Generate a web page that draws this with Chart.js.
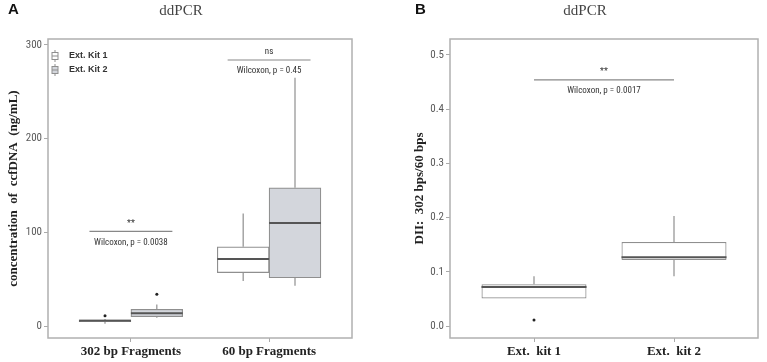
<!DOCTYPE html>
<html>
<head>
<meta charset="utf-8">
<script src="https://cdn.jsdelivr.net/npm/chart.js@4/dist/chart.umd.min.js"></script>
<style>
  body { margin: 0; background: #fff; width: 767px; height: 362px; position: relative; overflow: hidden; }
  .panel { position: absolute; top: 0; height: 362px; }
  .tag { position: absolute; font: bold 15px 'Liberation Sans', Arial, sans-serif; color: #111; line-height: 15px; }
  .ttl { position: absolute; width: 120px; text-align: center; font: 15px 'Liberation Serif', 'Times New Roman', serif; color: #444; line-height: 15px; }
</style>
</head>
<body>
<div class="panel" style="left:0;width:380px"><canvas id="chartA" width="380" height="362"></canvas></div>
<div class="panel" style="left:380px;width:387px"><canvas id="chartB" width="387" height="362"></canvas></div>
<div class="tag" style="left:8px;top:1px">A</div>
<div class="tag" style="left:415px;top:1px">B</div>
<div class="ttl" style="left:121px;top:3px">ddPCR</div>
<div class="ttl" style="left:525px;top:3px">ddPCR</div>
<script>
// panel A: ccfDNA concentration, two kits per fragment size
const groupsA = ['302 bp Fragments', '60 bp Fragments']
const kitNamesA = ['Ext. Kit 1', 'Ext. Kit 2']
// [min, q1, median, q3, max]
const kit1StatsA = [[2.5, 4.5, 5.5, 6.5, 7.5], [48, 57, 71.5, 84.5, 120]]
const kit2StatsA = [[8.8, 9.9, 13.5, 17.8, 23], [43, 51.5, 110, 147.5, 265]]
const kit1OutliersA = [[11], []]
const kit2OutliersA = [[34], []]
const yTicksA = [0, 100, 200, 300]
const testsA = [
  { from: 0.7, to: 1.3, y: 101, sig: '**', text: 'Wilcoxon, p = 0.0038' },
  { from: 1.7, to: 2.3, y: 284, sig: 'ns', text: 'Wilcoxon, p = 0.45' },
]

// panel B: DNA integrity index
const kitsB = ['Ext.  kit 1', 'Ext.  kit 2']
const diiStatsB = [[0.051, 0.051, 0.072, 0.077, 0.092], [0.092, 0.122, 0.127, 0.155, 0.203]]
const diiOutliersB = [[0.011], []]
const yTicksB = [0, 0.1, 0.2, 0.3, 0.4, 0.5]
const testsB = [
  { from: 1, to: 2, y: 0.454, sig: '**', text: 'Wilcoxon, p = 0.0017' },
]

const narrow = "'Liberation Sans Narrow', 'Roboto Condensed', 'DejaVu Sans Condensed', Arial, sans-serif"
const serif = "'Liberation Serif', 'Times New Roman', serif"
const boxLine = '#8f8f8f'

function boxDataset(label, stats, outliers, offset, fill) {
  return {
    label,
    data: stats.map((s, i) => ({ x: i + 1 + offset, y: [s[1], s[3]] })),
    stats,
    outliers,
    backgroundColor: fill,
    borderColor: boxLine,
    borderWidth: 1.2,
    borderSkipped: false,
    grouped: false,
  }
}

function line(ctx, x1, y1, x2, y2) {
  ctx.beginPath()
  ctx.moveTo(x1, y1)
  ctx.lineTo(x2, y2)
  ctx.stroke()
}

const boxExtras = {
  id: 'boxExtras',
  beforeDatasetsDraw(chart) {
    const { ctx, scales: { y } } = chart
    ctx.save()
    ctx.strokeStyle = boxLine
    ctx.lineWidth = 1.2
    chart.data.datasets.forEach((ds, di) => {
      chart.getDatasetMeta(di).data.forEach((bar, i) => {
        const s = ds.stats[i]
        line(ctx, bar.x, y.getPixelForValue(s[3]), bar.x, y.getPixelForValue(s[4]))
        line(ctx, bar.x, y.getPixelForValue(s[1]), bar.x, y.getPixelForValue(s[0]))
      })
    })
    ctx.restore()
  },
  afterDatasetsDraw(chart) {
    const { ctx, scales: { y } } = chart
    ctx.save()
    chart.data.datasets.forEach((ds, di) => {
      chart.getDatasetMeta(di).data.forEach((bar, i) => {
        const s = ds.stats[i]
        const my = y.getPixelForValue(s[2])
        ctx.strokeStyle = '#555'
        ctx.lineWidth = 2
        line(ctx, bar.x - bar.width / 2, my, bar.x + bar.width / 2, my)
        ctx.fillStyle = '#222'
        ds.outliers[i].forEach(v => {
          ctx.beginPath()
          ctx.arc(bar.x, y.getPixelForValue(v), 1.5, 0, Math.PI * 2)
          ctx.fill()
        })
      })
    })
    ctx.restore()
  },
  afterDraw(chart) {
    const { ctx, chartArea: a } = chart
    ctx.save()
    ctx.strokeStyle = '#b0b0b0'
    ctx.lineWidth = 1.5
    ctx.strokeRect(a.left, a.top, a.right - a.left, a.bottom - a.top)
    ctx.restore()
  },
}

const sigBars = {
  id: 'sigBars',
  afterDatasetsDraw(chart, args, opts) {
    const { ctx, scales: { x, y } } = chart
    ctx.save()
    ;(opts.tests || []).forEach(t => {
      const x1 = x.getPixelForValue(t.from)
      const x2 = x.getPixelForValue(t.to)
      const ly = y.getPixelForValue(t.y)
      const cx = (x1 + x2) / 2
      ctx.strokeStyle = '#888'
      ctx.lineWidth = 1.2
      line(ctx, x1, ly, x2, ly)
      ctx.fillStyle = '#333'
      ctx.textAlign = 'center'
      ctx.textBaseline = 'middle'
      ctx.font = `9px ${narrow}`
      ctx.fillText(t.sig, cx, ly - 8)
      ctx.font = `9px ${narrow}`
      ctx.fillText(t.text, cx, ly + 11)
    })
    ctx.restore()
  },
}

const boxLegend = {
  id: 'boxLegend',
  afterDraw(chart, args, opts) {
    if (!opts.show) return
    const { ctx, chartArea: a } = chart
    ctx.save()
    chart.data.datasets.forEach((ds, i) => {
      const ix = a.left + 7
      const iy = a.top + 17 + i * 14
      ctx.strokeStyle = boxLine
      ctx.lineWidth = 1
      line(ctx, ix, iy - 6, ix, iy + 6)
      ctx.fillStyle = ds.backgroundColor
      ctx.fillRect(ix - 3, iy - 3.5, 6, 7)
      ctx.strokeRect(ix - 3, iy - 3.5, 6, 7)
      line(ctx, ix - 3, iy, ix + 3, iy)
      ctx.fillStyle = '#333'
      ctx.font = `bold 9px 'Liberation Sans', Arial, sans-serif`
      ctx.textBaseline = 'middle'
      ctx.fillText(ds.label, a.left + 21, iy)
    })
    ctx.restore()
  },
}

function boxChart(canvasId, cfg) {
  const canvas = document.getElementById(canvasId)
  return new Chart(canvas.getContext('2d'), {
    type: 'bar',
    data: { datasets: cfg.datasets },
    plugins: [boxExtras, sigBars, boxLegend],
    options: {
      responsive: false,
      animation: false,
      categoryPercentage: 1,
      barPercentage: cfg.barPercentage,
      layout: { padding: cfg.padding },
      plugins: {
        legend: { display: false },
        tooltip: { enabled: false },
        sigBars: { tests: cfg.tests },
        boxLegend: { show: cfg.legend },
      },
      scales: {
        x: {
          type: 'linear',
          min: 0.4,
          max: 2.6,
          offset: false,
          border: { display: false },
          grid: { drawOnChartArea: false, offset: false, tickLength: 4, color: '#aaa' },
          afterBuildTicks: s => { s.ticks = cfg.labels.map((l, i) => ({ value: i + 1 })) },
          afterFit: s => { s.height = 24 },
          ticks: {
            autoSkip: false,
            maxRotation: 0,
            padding: 2,
            color: '#222',
            font: { family: serif, size: 13, weight: 'bold' },
            callback: v => cfg.labels[v - 1],
          },
        },
        y: {
          min: cfg.yMin,
          max: cfg.yMax,
          border: { display: false },
          grid: { drawOnChartArea: false, tickLength: 4, color: '#aaa' },
          afterBuildTicks: s => { s.ticks = cfg.yTicks.map(v => ({ value: v })) },
          afterFit: s => { s.width = cfg.yWidth },
          ticks: {
            padding: 2,
            color: '#5a5a5a',
            font: { family: narrow, size: 11 },
            callback: cfg.yFormat,
          },
          title: {
            display: true,
            text: cfg.yTitle,
            color: '#222',
            padding: { top: 6, bottom: 0 },
            font: { family: serif, size: 13, weight: 'bold' },
          },
        },
      },
    },
  })
}

boxChart('chartA', {
  labels: groupsA,
  datasets: [
    boxDataset(kitNamesA[0], kit1StatsA, kit1OutliersA, -0.1875, '#ffffff'),
    boxDataset(kitNamesA[1], kit2StatsA, kit2OutliersA, 0.1875, '#d3d6dc'),
  ],
  barPercentage: 1,
  padding: { top: 39, right: 28, left: 0, bottom: 0 },
  yWidth: 48,
  yMin: -12.8,
  yMax: 306.4,
  yTicks: yTicksA,
  yFormat: v => String(v),
  yTitle: 'concentration  of  ccfDNA  (ng/mL)',
  tests: testsA,
  legend: true,
})

boxChart('chartB', {
  labels: kitsB,
  datasets: [
    boxDataset('DII', diiStatsB, diiOutliersB, 0, '#ffffff'),
  ],
  barPercentage: 0.75,
  padding: { top: 39, right: 9, left: 26, bottom: 0 },
  yWidth: 44,
  yMin: -0.022,
  yMax: 0.5295,
  yTicks: yTicksB,
  yFormat: v => v.toFixed(1),
  yTitle: 'DII:  302 bps/60 bps',
  tests: testsB,
  legend: false,
})
</script>
</body>
</html>
